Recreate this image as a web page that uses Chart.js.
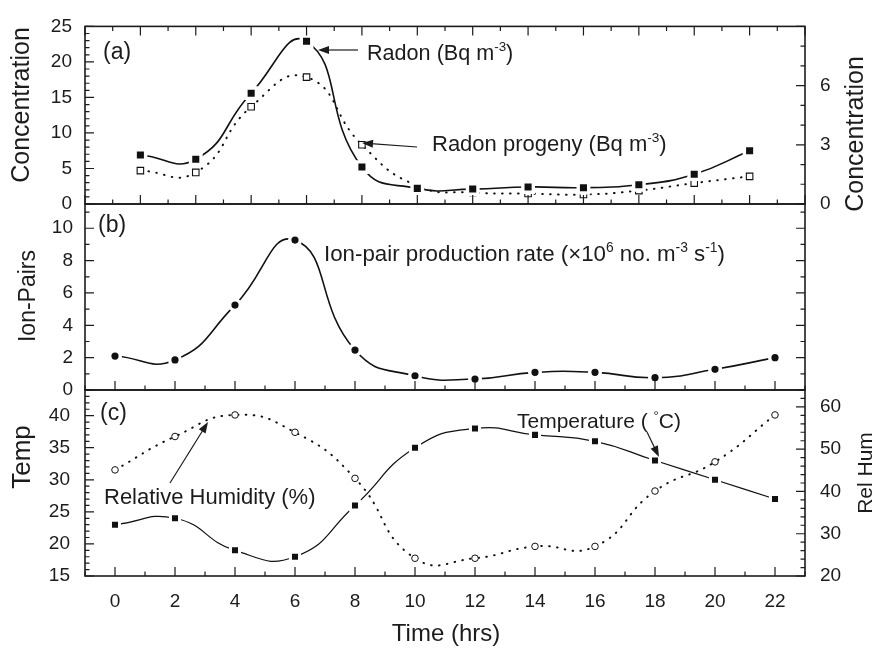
<!DOCTYPE html>
<html><head><meta charset="utf-8">
<script src="https://cdn.jsdelivr.net/npm/chart.js@4"></script>
<style>
html,body{margin:0;padding:0;background:#fff;}
#wrap{position:relative;width:877px;height:648px;background:#fff;}
#wrap canvas{position:absolute;left:0;top:0;}
</style></head><body>
<div id="wrap">
<canvas id="ca" width="877" height="648"></canvas>
<canvas id="cb" width="877" height="648"></canvas>
<canvas id="cc" width="877" height="648"></canvas>
</div>
<script>
// ---------- data ----------
const radonHours   = [1, 3, 5, 7, 9, 11, 13, 15, 17, 19, 21, 23];   // panel (a) sampling axis
const radonConc    = [6.9, 6.3, 15.6, 22.9, 5.2, 2.2, 2.1, 2.4, 2.3, 2.7, 4.2, 7.5];
const progenyConc  = [1.69, 1.6, 4.93, 6.43, 3.0, 0.92, 0.58, 0.53, 0.48, 0.68, 1.06, 1.40];
const hours        = [0, 2, 4, 6, 8, 10, 12, 14, 16, 18, 20, 22];
const ionPairs     = [2.1, 1.86, 5.25, 9.27, 2.47, 0.88, 0.68, 1.09, 1.09, 0.76, 1.28, 2.0];
const temperature  = [23, 24, 19, 18, 26, 35, 38, 37, 36, 33, 30, 27];
const relHumidity  = [45.1, 53.0, 58.1, 54.0, 43.1, 24.2, 24.2, 27.0, 27.0, 40.1, 47.0, 58.1];

const concTicks    = [0, 5, 10, 15, 20, 25];
const progenyTicks = [0, 3, 6];
const ionTicks     = [0, 2, 4, 6, 8, 10];
const tempTicks    = [15, 20, 25, 30, 35, 40];
const humTicks     = [20, 30, 40, 50, 60];
const hourTicks    = [0, 2, 4, 6, 8, 10, 12, 14, 16, 18, 20, 22];

// ---------- helpers ----------
const FONT = "'Liberation Sans', Arial, Helvetica, sans-serif";
const INK = '#1c1c1c';
const TENSION = 0.5;
const pts = (xs, ys) => xs.map((x, i) => ({x: x, y: ys[i]}));
const fixedTicks = vals => scale => { scale.ticks = vals.map(v => ({value: v})); };

function yScale(pos, min, max, vals, width, pad) {
  return {
    type: 'linear', position: pos, min: min, max: max,
    grid: {display: false, drawTicks: false}, border: {display: false},
    afterBuildTicks: fixedTicks(vals),
    afterFit: s => { s.width = width; },
    ticks: {font: {family: FONT, size: 19}, color: INK, padding: pad}
  };
}
function hiddenX(min, max) {
  return {type: 'linear', min: min, max: max, display: false};
}

function drawRich(ctx, x, y, segs, size, align) {
  let widths = segs.map(s => {
    ctx.font = (s[1] ? size * 0.62 : size) + 'px ' + FONT;
    return ctx.measureText(s[0]).width;
  });
  let total = widths.reduce((a, b) => a + b, 0);
  let cx = align === 'center' ? x - total / 2 : x;
  segs.forEach((s, i) => {
    ctx.font = (s[1] ? size * 0.62 : size) + 'px ' + FONT;
    ctx.fillText(s[0], cx, s[1] ? y - size * 0.4 : y);
    cx += widths[i];
  });
}
function arrow(ctx, x1, y1, x2, y2) {
  const ang = Math.atan2(y2 - y1, x2 - x1), L = 11, W = 4;
  ctx.beginPath(); ctx.moveTo(x1, y1);
  ctx.lineTo(x2 - Math.cos(ang) * L * 0.8, y2 - Math.sin(ang) * L * 0.8); ctx.stroke();
  ctx.beginPath();
  ctx.moveTo(x2, y2);
  ctx.lineTo(x2 - Math.cos(ang) * L - Math.sin(ang) * W, y2 - Math.sin(ang) * L + Math.cos(ang) * W);
  ctx.lineTo(x2 - Math.cos(ang) * L + Math.sin(ang) * W, y2 - Math.sin(ang) * L - Math.cos(ang) * W);
  ctx.closePath(); ctx.fill();
}

// frame + inward ticks, texts, arrows
const panelDecor = {
  id: 'panelDecor',
  afterDraw(chart, args, o) {
    const ctx = chart.ctx, a = chart.chartArea;
    ctx.save();
    ctx.strokeStyle = INK; ctx.fillStyle = INK;
    ctx.lineWidth = 1.2;
    (o.ticks || []).forEach(t => {
      const s = chart.scales[t.scale];
      ctx.beginPath();
      for (let k = 0; t.from + k * t.step <= t.to + 1e-9; k++) {
        const v = t.from + k * t.step;
        const q = (v - t.base) / t.majorStep;
        const major = Math.abs(q - Math.round(q)) < 1e-6;
        const len = major ? 9 : 4.5;
        const p = s.getPixelForValue(v);
        t.sides.forEach(side => {
          if (side === 'left')   { ctx.moveTo(a.left, p);  ctx.lineTo(a.left + len, p); }
          if (side === 'right')  { ctx.moveTo(a.right, p); ctx.lineTo(a.right - len, p); }
          if (side === 'top')    { ctx.moveTo(p, a.top);   ctx.lineTo(p, a.top + len); }
          if (side === 'bottom') { ctx.moveTo(p, a.bottom); ctx.lineTo(p, a.bottom - len); }
        });
      }
      ctx.stroke();
    });
    ctx.lineWidth = 1.6;
    ctx.strokeRect(a.left, a.top, a.right - a.left, a.bottom - a.top);
    ctx.textBaseline = 'alphabetic'; ctx.textAlign = 'left';
    (o.texts || []).forEach(t => drawRich(ctx, t.x, t.y, t.segs, t.size, t.align));
    ctx.lineWidth = 1.2;
    (o.arrows || []).forEach(r => arrow(ctx, r[0], r[1], r[2], r[3]));
    (o.vtitles || []).forEach(t => {
      ctx.save();
      ctx.translate(t.x, t.y); ctx.rotate(-Math.PI / 2);
      ctx.font = t.size + 'px ' + FONT; ctx.textAlign = 'center'; ctx.textBaseline = 'middle';
      ctx.fillText(t.text, 0, 0);
      ctx.restore();
    });
    ctx.restore();
  }
};

const common = {
  responsive: false, animation: false, events: [],
  plugins: {legend: {display: false}, tooltip: {enabled: false}}
};

// ---------- panel (a) ----------
new Chart(document.getElementById('ca'), {
  type: 'line',
  data: {datasets: [
    {data: pts(radonHours, radonConc), yAxisID: 'y', borderColor: '#111', borderWidth: 1.6, tension: TENSION,
     pointStyle: 'rect', pointRadius: 7.4, pointBackgroundColor: '#111', pointBorderColor: '#fff', pointBorderWidth: 3.4},
    {data: pts(radonHours, progenyConc), yAxisID: 'y2', borderColor: '#111', borderWidth: 2, borderDash: [0.6, 7.4],
     borderCapStyle: 'round', tension: TENSION,
     pointStyle: 'rect', pointRadius: 4.6, pointBackgroundColor: '#fff', pointBorderColor: '#111', pointBorderWidth: 1.1}
  ]},
  options: Object.assign({}, common, {
    layout: {padding: {top: 18, bottom: 444, left: 0, right: 0}},
    scales: {
      x: hiddenX(-1, 25),
      y: yScale('left', 0, 25, concTicks, 85, 13),
      y2: yScale('right', 0, 9, progenyTicks, 72, 15)
    },
    plugins: Object.assign({}, common.plugins, {panelDecor: {
      ticks: [
        {scale: 'x', from: -1, to: 25, step: 1, base: 1, majorStep: 2, sides: ['top', 'bottom']},
        {scale: 'y', from: 0, to: 25, step: 1, base: 0, majorStep: 5, sides: ['left']},
        {scale: 'y2', from: 0, to: 9, step: 1, base: 0, majorStep: 3, sides: ['right']}
      ],
      texts: [
        {x: 103, y: 59, size: 23, segs: [['(a)']]},
        {x: 367, y: 60, size: 21.6, segs: [['Radon (Bq m'], ['-3', 1], [')']]},
        {x: 432, y: 151, size: 22, segs: [['Radon progeny (Bq m'], ['-3', 1], [')']]}
      ],
      arrows: [[358, 50, 318, 50], [417, 147, 362, 143]],
      vtitles: [
        {text: 'Concentration', x: 22, y: 105, size: 25},
        {text: 'Concentration', x: 856, y: 134, size: 25}
      ]
    }})
  }),
  plugins: [panelDecor]
});

// ---------- panel (b) ----------
new Chart(document.getElementById('cb'), {
  type: 'line',
  data: {datasets: [
    {data: pts(hours, ionPairs), yAxisID: 'y', borderColor: '#111', borderWidth: 1.6, tension: TENSION,
     pointStyle: 'circle', pointRadius: 5.3, pointBackgroundColor: '#111', pointBorderColor: '#fff', pointBorderWidth: 3.4}
  ]},
  options: Object.assign({}, common, {
    layout: {padding: {top: 204, bottom: 258, left: 0, right: 72}},
    scales: {
      x: hiddenX(-1, 23),
      y: yScale('left', 0, 11.5, ionTicks, 85, 12)
    },
    plugins: Object.assign({}, common.plugins, {panelDecor: {
      ticks: [
        {scale: 'x', from: -1, to: 23, step: 1, base: 0, majorStep: 2, sides: ['bottom']},
        {scale: 'y', from: 0, to: 11, step: 1, base: 0, majorStep: 2, sides: ['left', 'right']}
      ],
      texts: [
        {x: 98, y: 232, size: 23, segs: [['(b)']]},
        {x: 324, y: 261, size: 22.3, segs: [['Ion-pair production rate (\u00d710'], ['6', 1], [' no. m'], ['-3', 1], [' s'], ['-1', 1], [')']]}
      ],
      vtitles: [{text: 'Ion-Pairs', x: 29, y: 296, size: 23}]
    }})
  }),
  plugins: [panelDecor]
});

// ---------- panel (c) ----------
new Chart(document.getElementById('cc'), {
  type: 'line',
  data: {datasets: [
    {data: pts(hours, temperature), yAxisID: 'y', borderColor: '#111', borderWidth: 1.2, tension: TENSION,
     pointStyle: 'rect', pointRadius: 6.4, pointBackgroundColor: '#111', pointBorderColor: '#fff', pointBorderWidth: 3},
    {data: pts(hours, relHumidity), yAxisID: 'y2', borderColor: '#111', borderWidth: 2, borderDash: [0.6, 7.4],
     borderCapStyle: 'round', tension: TENSION,
     pointStyle: 'circle', pointRadius: 3.3, pointBackgroundColor: '#fff', pointBorderColor: '#111', pointBorderWidth: 1}
  ]},
  options: Object.assign({}, common, {
    layout: {padding: {top: 390, bottom: 0, left: 0, right: 0}},
    scales: {
      x: {type: 'linear', min: -1, max: 23, position: 'bottom',
          grid: {display: false, drawTicks: false}, border: {display: false},
          afterBuildTicks: fixedTicks(hourTicks),
          afterFit: s => { s.height = 72; },
          ticks: {font: {family: FONT, size: 19}, color: INK, padding: 14, maxRotation: 0, autoSkip: false}},
      y: yScale('left', 15, 44, tempTicks, 85, 15),
      y2: yScale('right', 20, 64, humTicks, 72, 15)
    },
    plugins: Object.assign({}, common.plugins, {panelDecor: {
      ticks: [
        {scale: 'x', from: -1, to: 23, step: 1, base: 0, majorStep: 2, sides: ['bottom']},
        {scale: 'y', from: 15, to: 44, step: 1, base: 15, majorStep: 5, sides: ['left']},
        {scale: 'y2', from: 20, to: 64, step: 2, base: 20, majorStep: 10, sides: ['right']}
      ],
      texts: [
        {x: 100, y: 420, size: 23, segs: [['(c)']]},
        {x: 517, y: 428, size: 21, segs: [['Temperature ( '], ['\u00b0', 1], ['C)']]},
        {x: 104, y: 504, size: 22, segs: [['Relative Humidity (%)']]},
        {x: 446, y: 641, size: 24, segs: [['Time (hrs)']], align: 'center'}
      ],
      arrows: [[647, 432, 659, 457], [170, 483, 208, 422]],
      vtitles: [
        {text: 'Temp', x: 23, y: 457, size: 26},
        {text: 'Rel Hum', x: 866, y: 473, size: 21}
      ]
    }})
  }),
  plugins: [panelDecor]
});
</script>
</body></html>
